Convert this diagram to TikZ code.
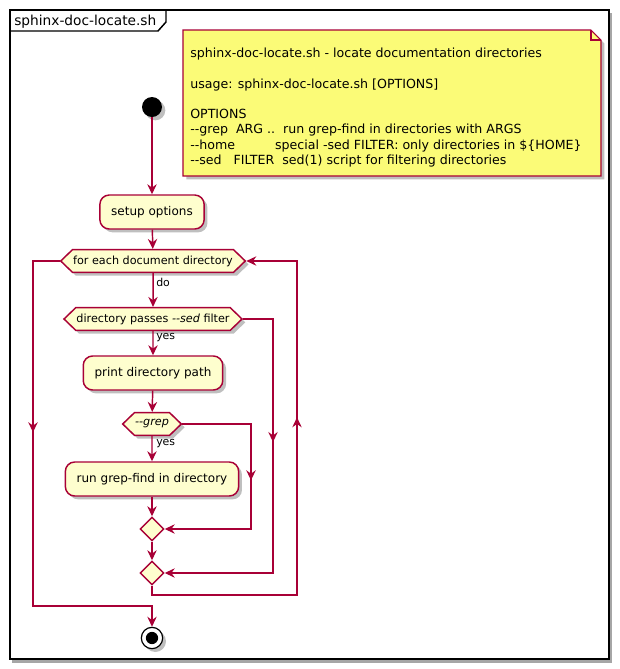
\documentclass[tikz,border=0pt]{standalone}
\usepackage{fontspec}
\newfontfamily\umlfont{DejaVu Sans}
\usetikzlibrary{arrows.meta,shapes.geometric,shapes.symbols,shadows,decorations.markings}

\definecolor{umlred}{HTML}{A80036}
\definecolor{umlfill}{HTML}{FEFECE}
\definecolor{umlnote}{HTML}{FBFB77}

\tikzset{
  >={Stealth[length=7.5pt,width=7pt,inset=2.5pt]},
  umlshadow/.style={drop shadow={shadow xshift=2.5pt,shadow yshift=-2.5pt,opacity=0.25,fill=black}},
  action/.style={draw=umlred,fill=umlfill,line width=1.1pt,rounded corners=7pt,umlshadow,
    minimum height=25.5pt,inner xsep=8.5pt,font=\umlfont\fontsize{9}{11}\selectfont},
  cond/.style={signal,signal to=west and east,signal pointer angle=88,draw=umlred,fill=umlfill,
    line width=1.1pt,umlshadow,minimum height=17pt,inner xsep=0.5pt,inner ysep=0pt,
    font=\umlfont\fontsize{8.4}{10}\selectfont},
  merge/.style={diamond,aspect=1,draw=umlred,fill=umlfill,line width=1.1pt,minimum size=18pt,inner sep=0pt},
  lbl/.style={anchor=west,inner sep=0pt,font=\umlfont\fontsize{8.2}{10}\selectfont},
  flow/.style={draw=umlred,line width=1.1pt,->},
  line/.style={draw=umlred,line width=1.1pt},
  midarrow/.style={postaction={decorate},decoration={markings,mark=at position #1 with {\arrow[umlred]{>}}}}
}

\begin{document}
\begin{tikzpicture}[x=0.75pt,y=0.75pt,yscale=-1,xscale=1]
    \useasboundingbox (0,0) rectangle (619,669);

    %Frame
    \fill[black!35] (12,13) rectangle (612,663);
    \filldraw[fill=white,draw=black,line width=1.4pt] (10,10) rectangle (609,659);
    \draw[line width=1.1pt] (10,31) -- (158,31) -- (166,22) -- (166,10);
    % Text Node
    \node[anchor=base west,inner sep=0pt,font=\umlfont\fontsize{10.3}{12}\selectfont] (title) at (14,25) {sphinx-doc-locate.sh};

    %Note
    \filldraw[fill=umlnote,draw=umlred,line width=0.8pt,umlshadow] (183,30) -- (591,30) -- (601,40) -- (601,176) -- (183,176) -- cycle;
    \draw[umlred,line width=0.8pt] (591,30) -- (591,40) -- (601,40);
    % Text Node
    \node[anchor=north west,inner sep=0pt,align=left,font=\umlfont\fontsize{9.45}{11.4}\selectfont] (notetext) at (190,48)
      {sphinx-doc-locate.sh - locate documentation directories\\[11.4pt]
       usage: sphinx-doc-locate.sh [OPTIONS]\\[11.4pt]
       OPTIONS\\
       --grep~~ARG ..~~run grep-find in directories with ARGS\\
       --home~~~~~~~~~~special -sed FILTER: only directories in \$\{HOME\}\\
       --sed~~~FILTER~~sed(1) script for filtering directories};

    %Activity nodes
    \node[circle,fill=black,minimum size=15pt,inner sep=0pt,umlshadow] (start) at (152,107) {};
    \node[action] (setup) at (152,212) {setup options};
    \node[cond] (loop) at (153,261) {for each document directory};
    \node[cond] (sedtest) at (153,319) {directory passes \textit{--sed} filter};
    \node[action] (printdir) at (153,373) {print directory path};
    \node[cond] (greptest) at (152,424) {\textit{--grep}};
    \node[action] (rungrep) at (152,479) {run grep-find in directory};
    \node[merge] (joingrep) at (152,529) {};
    \node[merge] (joinsed) at (152,573) {};
    \node[circle,draw=black,fill=white,line width=0.9pt,minimum size=16pt,inner sep=0pt,umlshadow] (stop) at (152,638) {};
    \fill (stop.center) circle (4.6pt);

    % Text Node
    \node[lbl] (dolbl) at (156,282) {do};
    \node[lbl] (yeslbl) at (156,338) {yes};
    \node[lbl] (yesgrep) at (156,444) {yes};

    %Connectors
    \coordinate (loopL) at (33,261);
    \coordinate (loopLB) at (33,606);
    \coordinate (stopT) at (152,606);
    \coordinate (sedR) at (273,319);
    \coordinate (sedRB) at (273,573);
    \coordinate (grepR) at (251,424);
    \coordinate (grepRB) at (251,529);
    \coordinate (backB) at (152,595);
    \coordinate (backRB) at (297,595);
    \coordinate (backRT) at (297,261);

    \draw[flow] (start) -- (setup);
    \draw[flow] (setup) -- (loop);
    \draw[flow] (loop) -- (sedtest);
    \draw[flow] (sedtest) -- (printdir);
    \draw[flow] (printdir) -- (greptest);
    \draw[flow] (greptest) -- (rungrep);
    \draw[flow] (rungrep) -- (joingrep);
    \draw[flow] (joingrep) -- (joinsed);
    \draw[flow,midarrow=93.75pt] (greptest.east) -- (grepR) -- (grepRB) -- (joingrep.east);
    \draw[flow,midarrow=114.75pt] (sedtest.east) -- (sedR) -- (sedRB) -- (joinsed.east);
    \draw[flow,midarrow=249pt] (joinsed.south) -- (backB) -- (backRB) -- (backRT) -- (loop.east);
    \draw[flow,midarrow=148.5pt] (loop.west) -- (loopL) -- (loopLB) -- (stopT) -- (stop);

\end{tikzpicture}
\end{document}
